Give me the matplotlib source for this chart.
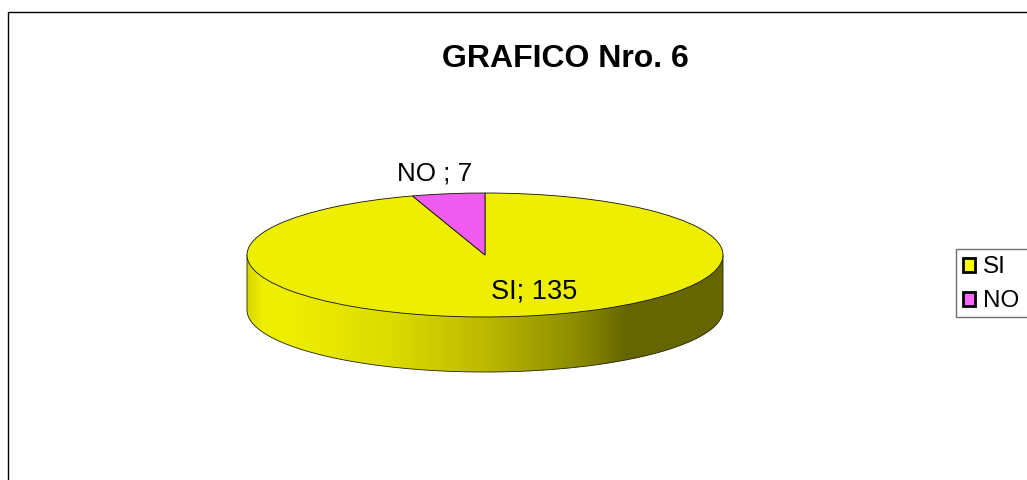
import numpy as np
import matplotlib
matplotlib.use("Agg")
import matplotlib.pyplot as plt
from matplotlib.colors import LinearSegmentedColormap
from matplotlib.patches import Patch, PathPatch, Rectangle
from matplotlib.path import Path

plt.rcParams['font.family'] = ['Liberation Sans', 'DejaVu Sans']

# Data
categories = ['SI', 'NO']
values = [135, 7]
top_colors = ['#EEEE00', '#EE5BEE']
legend_colors = ['#FFFF00', '#FF66FF']
title = 'GRAFICO Nro. 6'

# Pie geometry in image pixels
W, H = 1027, 480
cx, cy = 485, 255
rx, ry = 238, 62
depth = 55

# Side shading, left to right
side_stops = [0.0, 0.03, 0.09, 0.30, 0.50, 0.70, 0.80, 1.0]
side_colors = ['#D8D800', '#EEEE00', '#EEEE00', '#DCDC00', '#BDB900', '#8A8A00', '#666600', '#666600']

fig = plt.figure(figsize=(W / 100, H / 100), dpi=100)
ax = fig.add_axes([0, 0, 1, 1])
ax.set_xlim(0, W)
ax.set_ylim(H, 0)
ax.axis('off')

# Outer chart frame, runs off the right and bottom of the image
ax.add_patch(Rectangle((7.5, 11.5), W + 50, H + 50, fc='white', ec='black', lw=1.0))

# Side of the 3D pie
t = np.linspace(0, np.pi, 200)
xs = cx - rx * np.cos(t)
ys = cy + depth + ry * np.sin(t)
verts = [(cx - rx, cy)] + list(zip(xs, ys)) + [(cx + rx, cy), (cx - rx, cy)]
codes = [Path.MOVETO] + [Path.LINETO] * (len(verts) - 2) + [Path.CLOSEPOLY]
side_path = Path(verts, codes)
cmap = LinearSegmentedColormap.from_list('side', list(zip(side_stops, side_colors)))
img = ax.imshow(np.linspace(0, 1, 512).reshape(1, -1), cmap=cmap, aspect='auto',
                extent=(cx - rx, cx + rx, cy + depth + ry, cy - ry), zorder=2)
outline = PathPatch(side_path, fc='none', ec='#222200', lw=0.6, zorder=3)
ax.add_patch(outline)
img.set_clip_path(outline)
ax.set_xlim(0, W)
ax.set_ylim(H, 0)

# Top of the pie
pie_ax = fig.add_axes([(cx - rx) / W, 1 - (cy + ry) / H, 2 * rx / W, 2 * ry / H])
wedges, _ = pie_ax.pie(values, colors=top_colors, startangle=90, counterclock=False,
                       radius=1, wedgeprops={'edgecolor': '#111100', 'linewidth': 0.6})
pie_ax.set_aspect('auto')
pie_ax.set_xlim(-1, 1)
pie_ax.set_ylim(-1, 1)
for w in wedges:
    w.set_clip_on(False)

# Text
fig.text(565 / W, 1 - 59 / H, title, fontsize=23, fontweight='bold', ha='center', va='center')
fig.text(434.5 / W, 1 - 173 / H, f'{categories[1]} ; {values[1]}', fontsize=18.7, ha='center', va='center')
fig.text(534 / W, 1 - 291 / H, f'{categories[0]}; {values[0]}', fontsize=19.5, ha='center', va='center')

# Legend box runs off the right of the image
ax.add_patch(Rectangle((955.5, 248.5), 100, 68, fc='white', ec='#707070', lw=1.0, zorder=4))
handles = [Patch(fc=c, ec='black', lw=2) for c in legend_colors]
leg = fig.legend(handles, categories, loc='upper left', bbox_to_anchor=(956 / W, 1 - 249 / H),
                 fontsize=17.5, frameon=False, borderaxespad=0, borderpad=0.3,
                 handlelength=0.5, handleheight=0.5, handletextpad=0.3, labelspacing=0.5)

fig.savefig('out.png', dpi=100)
